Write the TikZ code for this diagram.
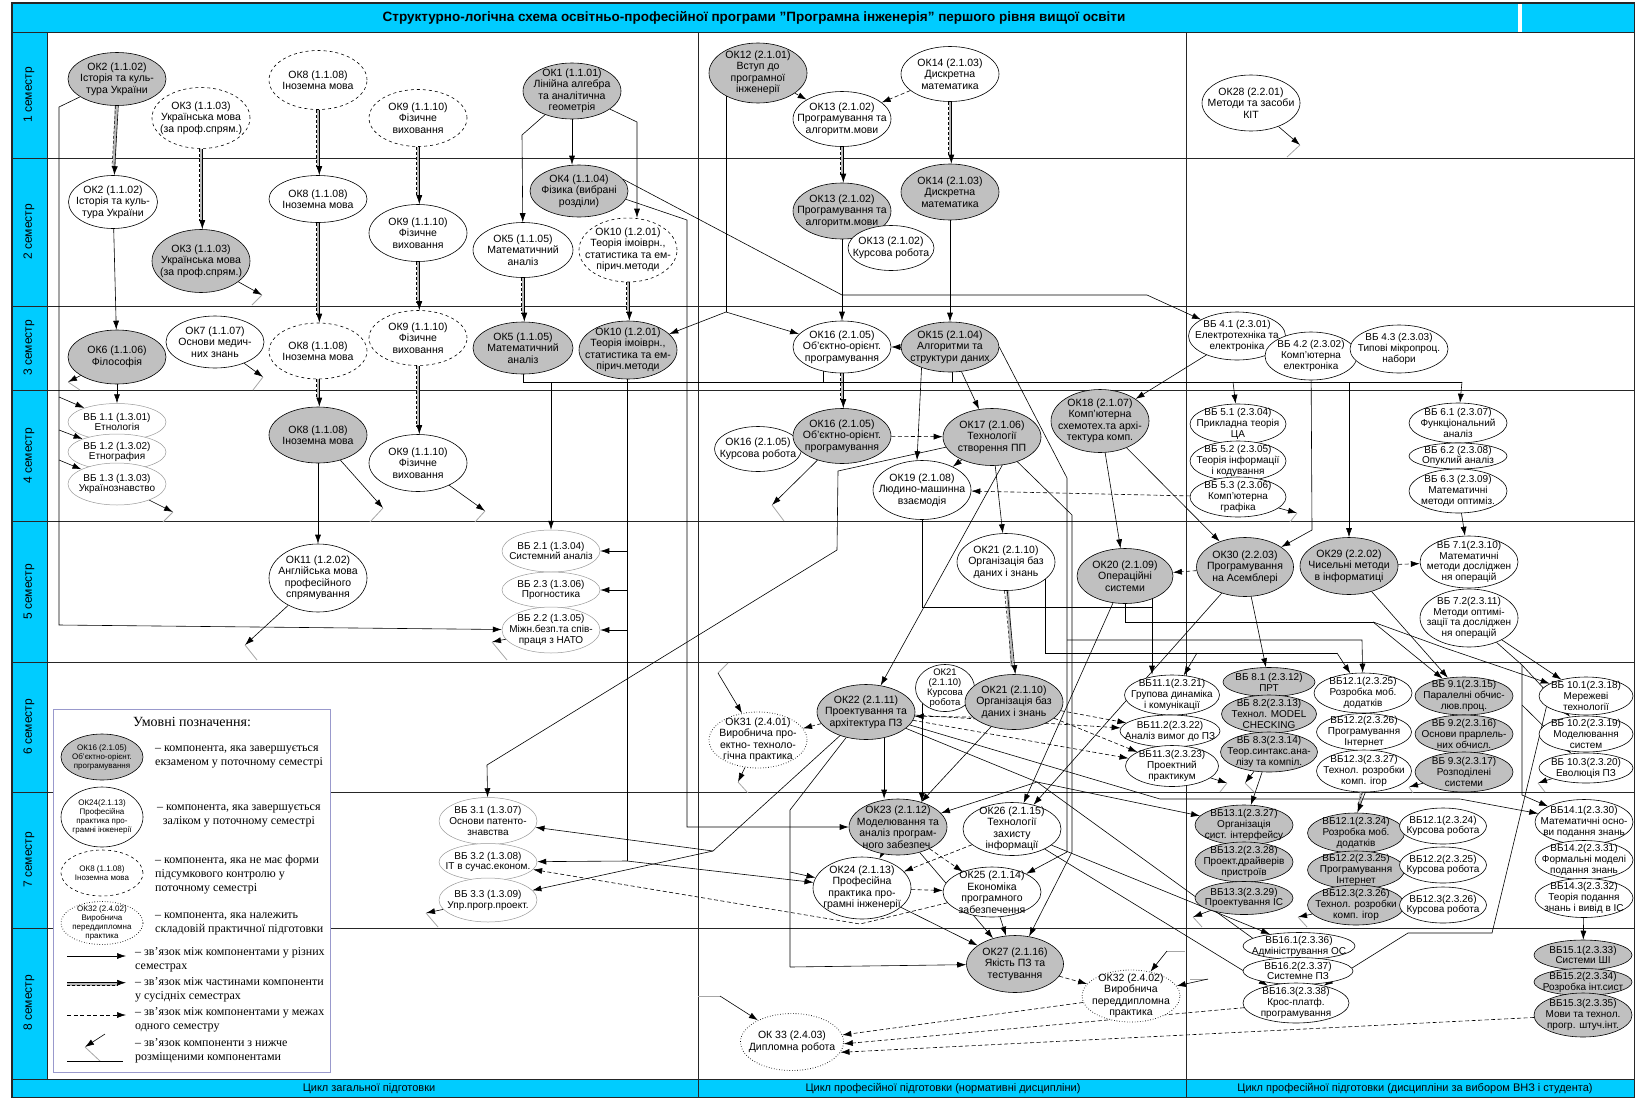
\documentclass[tikz,border=0pt]{standalone}
\usepackage{fontspec}
\setmainfont{Liberation Serif}
\setsansfont{Liberation Sans}
\usetikzlibrary{shapes.geometric,arrows.meta,positioning}
\definecolor{barCyan}{HTML}{00CCFF}
\definecolor{examGrey}{HTML}{C0C0C0}
\definecolor{legendFrame}{HTML}{9999CC}
\pgfdeclarelayer{frame}
\pgfdeclarelayer{wires}
\pgfsetlayers{frame,wires,main}

\tikzset{
  ok/.style={ellipse, draw, fill=white, line width=0.6pt, align=center,
    inner xsep=-14pt, inner ysep=-4pt, minimum width=98pt, minimum height=55pt,
    font=\sffamily\fontsize{10.5}{11.5}\selectfont},
  exam/.style={ok, fill=examGrey},
  nofc/.style={ok, dashed},
  prac/.style={ok, dotted, line width=0.8pt},
  vb/.style={ok, draw=gray!80, line width=0.5pt},
  sm/.style={font=\sffamily\fontsize{10}{10.8}\selectfont},
  hh/.style={minimum height=#1pt},
  ww/.style={minimum width=#1pt},
  link/.style={-{Latex[length=9pt,width=6pt]}, line width=0.6pt},
  dlink/.style={link, dash pattern=on 4pt off 2.5pt},
  plain/.style={line width=0.6pt},
  lowmark/.style={gray!70, line width=0.8pt},
  partband/.style={gray!55, line width=3pt, shorten >=8pt},
  row/.style={line width=1pt, black!85},
  lgtext/.style={align=left, anchor=west, inner sep=0pt, font=\fontsize{12}{14}\selectfont},
  lgell/.style={ok, minimum width=82pt, inner xsep=-10pt, font=\sffamily\fontsize{8}{9}\selectfont},
}

% link between parts of one component in neighbouring semesters
\newcommand{\partlink}[2]{%
  \draw[partband] (#1) -- (#2);
  \draw[line width=0.5pt, dash pattern=on 3pt off 2pt, shorten >=8pt] ([xshift=-1.5pt]#1.south) -- ([xshift=-1.5pt]#2.north);
  \draw[link] ([xshift=1.3pt]#1.south) -- ([xshift=1.3pt]#2.north);}
% link to components placed lower
\newcommand{\lowlink}[4]{%
  \coordinate (#1) at (#3);
  \draw[link] (#2) -- (#1);
  \draw[lowmark] (#1) -- ++(#4);}

\begin{document}
\begin{tikzpicture}[x=1pt,y=-1pt]
\useasboundingbox (0,0) rectangle (1635,1098);

% frame
\begin{pgfonlayer}{frame}
  \fill[barCyan] (12,3) rectangle (1635,32);
  \fill[white] (1518,3) rectangle (1522,32);
  \fill[barCyan] (12,32) rectangle (47,1079);
  \fill[barCyan] (12,1079) rectangle (1635,1098);
  \foreach \y in {32,158,306,390,521,662,792,928,1079}
    \draw[row] (12,\y) -- (1635,\y);
  \draw[row] (47,32) -- (47,1079);
  \draw[row] (698,32) -- (698,1098);
  \draw[row] (1186,32) -- (1186,1098);
  \draw[row, line width=1.3pt] (12,3) rectangle (1634.4,1097.4);
\end{pgfonlayer}

\node[font=\sffamily\bfseries\fontsize{13.5}{15}\selectfont] (title) at (754,18)
  {Структурно-логічна схема освітньо-професійної програми ”Програмна інженерія” першого рівня вищої освіти};
\foreach \n/\y in {1/95,2/232,3/348,4/456,5/592,6/727,7/860,8/1003}
  \node[rotate=90, font=\sffamily\fontsize{12}{14}\selectfont] (sem\n) at (29,\y) {\n\ семестр};
\node[font=\sffamily\fontsize{11}{13}\selectfont] (cycA) at (369,1089) {Цикл загальної підготовки};
\node[font=\sffamily\fontsize{11}{13}\selectfont] (cycB) at (943,1089) {Цикл професійної підготовки (нормативні дисципліни)};
\node[font=\sffamily\fontsize{11}{13}\selectfont] (cycC) at (1415,1089) {Цикл професійної підготовки (дисципліни за вибором ВНЗ і студента)};

% 1 семестр
\node[exam, hh=53] (ok2a) at (117,79) {ОК2 (1.1.02)\\Історія та куль-\\тура України};
\node[nofc, hh=61] (ok3a) at (201,118) {ОК3 (1.1.03)\\Українська мова\\(за проф.спрям.)};
\node[nofc, hh=59] (ok8a) at (318,80) {ОК8 (1.1.08)\\Іноземна мова};
\node[nofc, hh=57] (ok9a) at (418,118) {ОК9 (1.1.10)\\Фізичне\\виховання};
\node[exam, hh=56] (ok1) at (572,91) {ОК1 (1.1.01)\\Лінійна алгебра\\та аналітична\\геометрія};
\node[exam, hh=60] (ok12) at (758,73) {ОК12 (2.1.01)\\Вступ до\\програмної\\інженерії};
\node[ok] (ok13a) at (842,119) {ОК13 (2.1.02)\\Програмування та\\алгоритм.мови};
\node[ok] (ok14a) at (950,74) {ОК14 (2.1.03)\\Дискретна\\математика};
\node[ok, hh=56] (ok28) at (1251,103) {ОК28 (2.2.01)\\Методи та засоби\\КІТ};

% 2 семестр
\node[ok, ww=89, hh=53] (ok2b) at (113,202) {ОК2 (1.1.02)\\Історія та куль-\\тура України};
\node[exam, hh=63] (ok3b) at (201,261) {ОК3 (1.1.03)\\Українська мова\\(за проф.спрям.)};
\node[ok, hh=47] (ok8b) at (318,199) {ОК8 (1.1.08)\\Іноземна мова};
\node[ok, hh=57] (ok9b) at (418,233) {ОК9 (1.1.10)\\Фізичне\\виховання};
\node[exam, hh=52] (ok4) at (579,191) {ОК4 (1.1.04)\\Фізика (вибрані\\розділи)};
\node[ok, ww=100] (ok5a) at (523,250) {ОК5 (1.1.05)\\Математичний\\аналіз};
\node[nofc, hh=64] (ok10a) at (628,250) {ОК10 (1.2.01)\\Теорія імоіврн.,\\статистика та ем-\\пірич.методи};
\node[exam, hh=56] (ok13b) at (842,211) {ОК13 (2.1.02)\\Програмування та\\алгоритм.мови};
\node[ok, ww=86, hh=45] (ok13k) at (891,248) {ОК13 (2.1.02)\\Курсова робота};
\node[exam, hh=56] (ok14b) at (950,192) {ОК14 (2.1.03)\\Дискретна\\математика};

% 3 семестр
\node[exam, hh=54] (ok6) at (117,357) {ОК6 (1.1.06)\\Філософія};
\node[ok, hh=52] (ok7) at (215,342) {ОК7 (1.1.07)\\Основи медич-\\них знань};
\node[nofc, hh=56] (ok8c) at (318,351) {ОК8 (1.1.08)\\Іноземна мова};
\node[nofc] (ok9c) at (418,338) {ОК9 (1.1.10)\\Фізичне\\виховання};
\node[exam, ww=100, hh=52] (ok5b) at (523,348) {ОК5 (1.1.05)\\Математичний\\аналіз};
\node[exam, hh=58] (ok10b) at (628,350) {ОК10 (1.2.01)\\Теорія імоіврн.,\\статистика та ем-\\пірич.методи};
\node[ok, hh=52] (ok16a) at (842,347) {ОК16 (2.1.05)\\Об’єктно-орієнт.\\програмування};
\node[exam, hh=50] (ok15) at (950,347) {ОК15 (2.1.04)\\Алгоритми та\\структури даних};
\node[ok, sm, ww=97, hh=48] (vb41) at (1237,336) {ВБ 4.1 (2.3.01)\\Електротехніка та\\електроніка};
\node[ok, sm, ww=92, hh=48] (vb42) at (1311,356) {ВБ 4.2 (2.3.02)\\Комп’ютерна\\електроніка};
\node[ok, sm, hh=48] (vb43) at (1399,349) {ВБ 4.3 (2.3.03)\\Типові мікропроц.\\набори};

% 4 семестр
\node[vb, sm, hh=37] (vb11) at (117,422) {ВБ 1.1 (1.3.01)\\Етнологія};
\node[vb, sm, hh=36] (vb12) at (117,452) {ВБ 1.2 (1.3.02)\\Етнография};
\node[vb, sm, hh=42] (vb13) at (117,484) {ВБ 1.3 (1.3.03)\\Українознавство};
\node[exam, hh=56] (ok8d) at (318,435) {ОК8 (1.1.08)\\Іноземна мова};
\node[ok, hh=57] (ok9d) at (418,463) {ОК9 (1.1.10)\\Фізичне\\виховання};
\node[ok, ww=87, hh=45] (ok16k) at (758,449) {ОК16 (2.1.05)\\Курсова робота};
\node[exam] (ok16b) at (842,436) {ОК16 (2.1.05)\\Об’єктно-орієнт.\\програмування};
\node[exam, hh=57] (ok17) at (992,437) {ОК17 (2.1.06)\\Технології\\створення ПП};
\node[ok, hh=59] (ok19) at (922,490) {ОК19 (2.1.08)\\Людино-машинна\\взаємодія};
\node[exam, hh=63] (ok18) at (1100,421) {ОК18 (2.1.07)\\Комп’ютерна\\схемотех.та архі-\\тектура комп.};
\node[ok, sm, ww=96, hh=40] (vb51) at (1238,424) {ВБ 5.1 (2.3.04)\\Прикладна теорія\\ЦА};
\node[ok, sm, ww=96, hh=40] (vb52) at (1238,461) {ВБ 5.2 (2.3.05)\\Теорія інформації\\і кодування};
\node[ok, sm, ww=96, hh=40] (vb53) at (1238,497) {ВБ 5.3 (2.3.06)\\Комп’ютерна\\графіка};
\node[ok, sm, hh=40] (vb61) at (1458,423) {ВБ 6.1 (2.3.07)\\Функціональний\\аналіз};
\node[ok, sm, hh=26] (vb62) at (1458,456) {ВБ 6.2 (2.3.08)\\Опуклий аналіз};
\node[ok, sm, hh=44] (vb63) at (1458,491) {ВБ 6.3 (2.3.09)\\Математичні\\методи оптиміз.};

% 5 семестр
\node[ok, hh=68] (ok11) at (318,578) {ОК11 (1.2.02)\\Англійська мова\\професійного\\спрямування};
\node[vb, sm, hh=42] (vb21) at (551,551) {ВБ 2.1 (1.3.04)\\Системний аналіз};
\node[vb, sm, hh=36] (vb23) at (551,590) {ВБ 2.3 (1.3.06)\\Прогностика};
\node[vb, sm, hh=46] (vb22) at (551,630) {ВБ 2.2 (1.3.05)\\Міжн.безп.та спів-\\праця з НАТО};
\node[ok, hh=57] (ok21a) at (1006,562) {ОК21 (2.1.10)\\Організація баз\\даних і знань};
\node[exam, ww=96] (ok20) at (1125,576) {ОК20 (2.1.09)\\Операційні\\системи};
\node[exam, ww=97, hh=59] (ok30) at (1245,567) {ОК30 (2.2.03)\\Програмування\\на Асемблері};
\node[exam, hh=57] (ok29) at (1349,566) {ОК29 (2.2.02)\\Чисельні методи\\в інформатиці};
\node[ok, sm, hh=52] (vb71) at (1469,562) {ВБ 7.1(2.3.10)\\Математичні\\методи дослiджен\\ня операцій};
\node[ok, sm, hh=58] (vb72) at (1469,618) {ВБ 7.2(2.3.11)\\Методи оптимі-\\зації та досліджен\\ня операцій};

% 6 семестр
\node[prac, hh=56] (ok31) at (758,740) {ОК31 (2.4.01)\\Виробнича про-\\ектно- техноло-\\гічна практика};
\node[exam] (ok22) at (866,712) {ОК22 (2.1.11)\\Проектування та\\архітектура ПЗ};
\node[ok, ww=59, hh=47, font=\sffamily\fontsize{9.5}{10}\selectfont] (ok21k) at (945,688) {ОК21\\(2.1.10)\\Курсова\\робота};
\node[exam] (ok21b) at (1014,702) {ОК21 (2.1.10)\\Організація баз\\даних і знань};
\node[ok, sm, ww=95, hh=40] (vb111) at (1172,695) {ВБ11.1(2.3.21)\\Групова динаміка\\і комунікації};
\node[ok, sm, ww=100, hh=32] (vb112) at (1170,731) {ВБ11.2(2.3.22)\\Аналіз вимог до ПЗ};
\node[ok, sm, ww=93, hh=41] (vb113) at (1172,766) {ВБ11.3(2.3.23)\\Проектний\\практикум};
\node[exam, sm, ww=92, hh=29] (vb81) at (1269,682) {ВБ 8.1 (2.3.12)\\ПРТ};
\node[exam, sm, ww=95, hh=38] (vb82) at (1269,714) {ВБ 8.2(2.3.13)\\Технол. MODEL\\CHECKING};
\node[exam, sm, ww=97, hh=40] (vb83) at (1269,752) {ВБ 8.3(2.3.14)\\Теор.синтакс.ана-\\лізу та компіл.};
\node[ok, sm, hh=40] (vb121a) at (1363,693) {ВБ12.1(2.3.25)\\Розробка моб.\\додатків};
\node[ok, sm, ww=95, hh=37] (vb122a) at (1364,732) {ВБ12.2(2.3.26)\\Програмування\\Інтернет};
\node[ok, sm, ww=95, hh=42] (vb123a) at (1364,771) {ВБ12.3(2.3.27)\\Технол. розробки\\комп. ігор};
\node[exam, sm, hh=38] (vb91) at (1464,696) {ВБ 9.1(2.3.15)\\Паралелні обчис-\\люв.проц.};
\node[exam, sm, hh=38] (vb92) at (1464,734) {ВБ 9.2(2.3.16)\\Основи прарлель-\\них обчисл.};
\node[exam, sm, hh=40] (vb93) at (1464,772) {ВБ 9.3(2.3.17)\\Розподілені\\системи};
\node[ok, sm, ww=94, hh=38] (vb101) at (1586,696) {ВБ 10.1(2.3.18)\\Мережеві\\технології};
\node[ok, sm, ww=94, hh=36] (vb102) at (1586,734) {ВБ 10.2(2.3.19)\\Моделювання\\систем};
\node[ok, sm, ww=94, hh=30] (vb103) at (1586,768) {ВБ 10.3(2.3.20)\\Еволюція ПЗ};

% 7 семестр
\node[vb, sm, hh=47] (vb31) at (488,821) {ВБ 3.1 (1.3.07)\\Основи патенто-\\знавства};
\node[vb, sm, hh=37] (vb32) at (488,862) {ВБ 3.2 (1.3.08)\\ІТ в сучас.економ.};
\node[vb, sm, hh=44] (vb33) at (488,900) {ВБ 3.3 (1.3.09)\\Упр.прогр.проект.};
\node[exam, hh=56] (ok23) at (898,827) {ОК23 (2.1.12)\\Моделювання та\\аналіз програм-\\ного забезпеч.};
\node[ok, hh=53] (ok26) at (1012,829) {ОК26 (2.1.15)\\Технології\\захисту\\інформації};
\node[ok, hh=62] (ok24) at (862,888) {ОК24 (2.1.13)\\Професійна\\практика про-\\грамні інженерії};
\node[ok, hh=50] (ok25) at (992,892) {ОК25 (2.1.14)\\Економіка\\програмного\\забезпечення};
\node[exam, sm, hh=40] (vb131) at (1244,825) {ВБ13.1(2.3.27)\\Організація\\сист. інтерфейсу};
\node[exam, sm, hh=40] (vb132) at (1244,862) {ВБ13.2(2.3.28)\\Проект.драйверів\\пристроїв};
\node[exam, sm, hh=33] (vb133) at (1244,898) {ВБ13.3(2.3.29)\\Проектування ІС};
\node[exam, sm, ww=97, hh=40] (vb121b) at (1356,833) {ВБ12.1(2.3.24)\\Розробка моб.\\додатків};
\node[exam, sm, ww=97, hh=38] (vb122b) at (1356,870) {ВБ12.2(2.3.25)\\Програмування\\Інтернет};
\node[exam, sm, ww=97, hh=40] (vb123b) at (1356,905) {ВБ12.3(2.3.26)\\Технол. розробки\\комп. ігор};
\node[ok, sm, ww=87, hh=36] (vb121k) at (1443,826) {ВБ12.1(2.3.24)\\Курсова робота};
\node[ok, sm, ww=87, hh=36] (vb122k) at (1443,865) {ВБ12.2(2.3.25)\\Курсова робота};
\node[ok, sm, ww=87, hh=36] (vb123k) at (1443,905) {ВБ12.3(2.3.26)\\Курсова робота};
\node[ok, sm, hh=45] (vb141) at (1584,822) {ВБ14.1(2.3.30)\\Математичні осно-\\ви подання знань};
\node[ok, sm, hh=39] (vb142) at (1584,860) {ВБ14.2(2.3.31)\\Формальні моделі\\подання знань};
\node[ok, sm, hh=39] (vb143) at (1584,898) {ВБ14.3(2.3.32)\\Теорія подання\\знань і вивід в ІС};

% 8 семестр
\node[exam, ww=97, hh=57] (ok27) at (1015,964) {ОК27 (2.1.16)\\Якість ПЗ та\\тестування};
\node[prac, hh=52] (ok32) at (1131,996) {ОК32 (2.4.02)\\Виробнича\\переддипломна\\практика};
\node[prac, ww=103, hh=57] (ok33) at (792,1042) {ОК 33 (2.4.03)\\Дипломна робота};
\node[ok, sm, ww=112, hh=27] (vb161) at (1299,946) {ВБ16.1(2.3.36)\\Адміністрування ОС};
\node[ok, sm, ww=110, hh=27] (vb162) at (1298,971) {ВБ16.2(2.3.37)\\Системне ПЗ};
\node[ok, sm, ww=106, hh=40] (vb163) at (1296,1003) {ВБ16.3(2.3.38)\\Крос-платф.\\програмування};
\node[exam, sm, hh=30] (vb151) at (1583,955) {ВБ15.1(2.3.33)\\Системи ШІ};
\node[exam, sm, hh=27] (vb152) at (1583,982) {ВБ15.2(2.3.34)\\Розробка інт.сист};
\node[exam, sm, hh=44] (vb153) at (1583,1015) {ВБ15.3(2.3.35)\\Мови та технол.\\прогр. штуч.інт.};

% legend
\node[draw=legendFrame, fill=white, line width=0.8pt, minimum width=277pt, minimum height=363pt, inner sep=0pt] (legend) at (191.5,890.5) {};
\node[font=\fontsize{14}{16}\selectfont] (lgTitle) at (192,722) {Умовні позначення:};
\node[lgell, fill=examGrey, hh=46] (lgExam) at (102,757) {ОК16 (2.1.05)\\Об’єктно-орієнт.\\програмування};
\node[lgtext] (lgExamT) at (155,757) {– компонента, яка завершується\\екзаменом у поточному семестрі};
\node[lgell, hh=60] (lgCredit) at (102,817) {ОК24(2.1.13)\\Професійна\\практика про-\\грамні інженерії};
\node[lgtext, align=center] (lgCreditT) at (157,816) {– компонента, яка завершується\\заліком у поточному семестрі};
\node[lgell, dashed, hh=46] (lgNone) at (102,873) {ОК8 (1.1.08)\\Іноземна мова};
\node[lgtext] (lgNoneT) at (155,875) {– компонента, яка не має форми\\підсумкового контролю у\\поточному семестрі};
\node[lgell, dotted, line width=0.8pt, hh=43] (lgPrac) at (102,923) {ОК32 (2.4.02)\\Виробнича\\переддипломна\\практика};
\node[lgtext] (lgPracT) at (155,924) {– компонента, яка належить\\складовій практичної підготовки};
\coordinate (lgA1) at (67,956);
\coordinate (lgA2) at (126,956);
\draw[link] (lgA1) -- (lgA2);
\node[lgtext] (lgAT) at (135,960) {– зв'язок між компонентами у різних\\семестрах};
\coordinate (lgB1) at (67,984);
\coordinate (lgB2) at (126,984);
\draw[partband] (lgB1) -- (lgB2);
\draw[line width=0.5pt, dash pattern=on 3pt off 2pt, shorten >=8pt] ([yshift=-1.5pt]lgB1) -- ([yshift=-1.5pt]lgB2);
\draw[link] ([yshift=1.3pt]lgB1) -- ([yshift=1.3pt]lgB2);
\node[lgtext] (lgBT) at (135,990) {– зв'язок між частинами компоненти\\у сусідніх семестрах};
\coordinate (lgC1) at (67,1015);
\coordinate (lgC2) at (126,1015);
\draw[dlink] (lgC1) -- (lgC2);
\node[lgtext] (lgCT) at (135,1020) {– зв'язок між компонентами у межах\\одного семестру};
\coordinate (lgD1) at (105,1034);
\coordinate (lgD2) at (85,1047);
\coordinate (lgD3) at (67,1061);
\coordinate (lgD4) at (123,1061);
\draw[link] (lgD1) -- (lgD2);
\draw[lowmark] (lgD2) -- (100,1061);
\draw[plain] (lgD3) -- (lgD4);
\node[lgtext] (lgDT) at (135,1051) {– зв'язок компоненти з нижче\\розміщеними компонентами};

% connectors
\begin{pgfonlayer}{wires}
  % 1-2 семестр
  \partlink{ok2a}{ok2b}
  \partlink{ok3a}{ok3b}
  \partlink{ok8a}{ok8b}
  \partlink{ok9a}{ok9b}
  \partlink{ok13a}{ok13b}
  \partlink{ok14a}{ok14b}
  \draw[link] (ok1.south) -- (ok1.south |- ok4.north);
  \draw[link] (ok1) -- (522,135) -- (ok5a);
  \draw[link] (ok1) -- (637,122) -- ([xshift=9pt]ok10a.north);
  \draw[dlink] (ok12) -- (ok13a);
  \draw[dlink] (ok14a) -- (ok13a);
  \coordinate (j12) at (726,312);
  \draw[plain] (j12 |- ok12.center) -- (j12);
  \draw[link] (j12) -- (ok10b);
  \draw[link] (j12) -- (ok16a);
  \draw[link] (ok4.15) -- (842,295) -- (1147,295) -- (vb41);
  \draw[link] (ok4.-10) -- (687,220) -- (687,827) -- (ok23);
  \lowlink{ll28}{ok28}{1300,145}{-13,12}
  % ліва лінія від ОК2
  \coordinate (lft) at (59,107);
  \coordinate (lftEnd) at (59,625);
  \draw[link] (ok2a) -- (lft) -- (lftEnd) -- (vb22);
  \foreach \y/\t in {397/vb11,430/vb12,460/vb13}{
    \coordinate (lft-\t) at (59,\y);
    \draw[link] (lft-\t) -- (\t);}
  % 2-3 семестр
  \partlink{ok5a}{ok5b}
  \partlink{ok10a}{ok10b}
  \partlink{ok8b}{ok8c}
  \partlink{ok9b}{ok9c}
  \draw[link] (ok13b) -- (ok16a);
  \draw[link] (ok14b) -- (ok15);
  \draw[link] (ok2b) -- (ok6);
  \lowlink{ll3}{ok3b}{262,295}{-10,10}
  % 3 семестр
  \lowlink{ll6}{ok6}{68,382}{12,8}
  \draw[link] (ok6) -- (vb11);
  \lowlink{ll7}{ok7}{263,377}{-10,13}
  \partlink{ok8c}{ok8d}
  \partlink{ok9c}{ok9d}
  \partlink{ok16a}{ok16b}
  \coordinate (busA) at (522,382);
  \coordinate (busB) at (1462,382);
  \draw[plain] (ok5b) -- (ok5b |- busA) -- (busB);
  \draw[plain] ([xshift=-19pt]ok16a.center) -- ++(0,35);
  \draw[plain] ([xshift=2pt]ok15.center) -- ++(0,35);
  \foreach \x/\t in {551/vb21,1233/vb51,1349/ok29,1462/vb61}{
    \coordinate (drop-\t) at (\x,382);
    \draw[link] (drop-\t) -- (\t);}
  \draw[link] (vb42) -- (1312,530) -- (ok30);
  \draw[link] (vb41) -- (ok18);
  \draw[dlink] (ok15) -- (ok16a);
  \draw[link] (ok15) -- (ok17);
  \draw[link] (ok15.216) -- ([xshift=-5pt]ok19.north);
  \coordinate (v15) at (1067,478);
  \coordinate (j15b) at (1067,640);
  \coordinate (j15) at (1067,852);
  \draw[plain] (ok15.east) -- (v15) -- (j15);
  \draw[link] (j15) -- (ok25);
  \draw[link] (j15b) -- (1362,640) -- (vb121a);
  % ОК10
  \coordinate (v10) at (627,861);
  \draw[plain] (v10 |- ok10b.center) -- (v10);
  \foreach \t in {vb21,vb23,vb22}
    \draw[link] (v10 |- \t) -- (\t);
  \draw[link] (v10) -- (vb32);
  \draw[link] (v10) -- (ok24);
  % 4 семестр
  \draw[dlink] (ok16b) -- (ok17);
  \lowlink{ll16}{ok16b}{772,505}{12,16}
  \draw[link] (ok17) -- (838,471) -- (837,550) -- (487,765) -- (vb31);
  \draw[link] (ok17.-70) -- (ok22);
  \draw[link] (ok17) -- (ok21a);
  \draw[link] (ok17) -- (1072,515) -- (1072,852) -- (ok27);
  \draw[dlink] (ok17) -- (ok19);
  \draw[dlink] (vb53) -- (ok19);
  \draw[link] (ok18) -- (ok20);
  \draw[link] (ok18) -- (ok30);
  \lowlink{ll13}{vb13}{173,512}{-10,10}
  \draw[link] (ok8d) -- (ok11);
  \lowlink{ll8}{ok8d}{383,508}{-13,14}
  \lowlink{ll9}{ok9d}{485,511}{-10,11}
  \lowlink{ll53}{vb53}{1297,513}{-7,9}
  % 5 семестр
  \lowlink{ll11}{ok11}{245,645}{12,15}
  \lowlink{ll22}{vb22}{492,642}{15,18}
  \draw[dlink] (ok30) -- (ok20);
  \draw[dlink] (ok29) -- (vb71);
  \draw[link] (vb63) -- (vb71);
  \partlink{ok21a}{ok21b}
  \coordinate (j21) at (1045,653);
  \coordinate (j21b) at (1197,653);
  \coordinate (j21c) at (1337,653);
  \draw[plain] (j21 |- ok21a.center) -- (j21) -- (j21c);
  \draw[link] (j21b) -- (vb111);
  \draw[link] (j21c) -- (vb121a);
  \coordinate (j20) at (1152,607);
  \draw[plain] (ok19) |- (j20);
  \draw[plain] (j20 |- ok20.center) -- (j20);
  \draw[link] (j20) -- ([xshift=-20pt]vb111.north);
  \coordinate (j20b) at (1125,622);
  \coordinate (j20c) at (1373,622);
  \draw[plain] (ok20) -- (j20b) -- (j20c);
  \draw[link] (j20c) -- (vb91);
  \draw[link] (j20c) -- (1445,648) -- (vb101);
  \draw[link] (ok30) -- (vb81);
  \draw[link] (ok29) -- (vb91);
  \draw[link] (ok30) -- (ok26);
  \draw[link] (ok20) -- (ok26);
  \coordinate (v72) at (1522,665);
  \coordinate (v72b) at (1522,705);
  \coordinate (v72c) at (1522,795);
  \draw[plain] (vb72) -- (v72) -- (v72c);
  \draw[link] (v72c) -- (vb141);
  \draw[link] (v72) -- (vb102);
  \draw[link] (v72b) -- (vb103);
  \draw[link] (vb72) -- (vb101);
  \draw[link] (vb101.195) -- (1492,933) -- (1408,933) -- (vb163);
  % 6 семестр
  \coordinate (in31a) at (728,663);
  \coordinate (in31b) at (718,673);
  \draw[lowmark] (in31a) -- (in31b);
  \draw[link] (in31b) -- (ok31);
  \lowlink{ll31}{ok31}{738,782}{10,11}
  \draw[dlink] (ok22) -- (ok31);
  \draw[dlink] (ok21b.200) -- (ok22.-5);
  \draw[link] (ok22.-55) -- (ok22.-55 |- ok23.north);
  \draw[link] (ok21k.213) -- ([yshift=-3pt]ok21k.213 |- ok23.north);
  \draw[link] (ok21b) -- (ok23);
  \draw[dlink] (ok21b) -- (vb112);
  \draw[dlink] (ok21b) -- (vb113);
  \draw[dlink] (ok22) -- (vb112);
  \draw[dlink] (ok22) -- (vb113);
  \draw[link] (ok22) -- (1160,799) -- (1460,799) -- (vb141);
  \coordinate (jj) at (1037,782);
  \draw[plain] (ok22) -- (jj);
  \draw[link] (jj) -- (ok23);
  \draw[link] (jj) -- (vb131);
  \draw[link] (jj) -- (vb162);
  \coordinate (j22) at (713,851);
  \draw[plain] (ok22) -- (j22);
  \draw[link] (j22) -- (vb31);
  \draw[link] (j22) -- (vb33);
  \coordinate (j22b) at (790,810);
  \coordinate (j22d) at (790,872);
  \coordinate (j22c) at (790,967);
  \draw[plain] (ok22) -- (j22b) -- (j22c);
  \draw[link] (j22d) -- (ok24);
  \draw[link] (j22c) -- (ok27);
  \lowlink{ll113}{vb113}{1227,783}{-7,9}
  \lowlink{ll83}{vb83}{1245,783}{10,10}
  \lowlink{ll93}{vb93}{1409,787}{4,6}
  \lowlink{ll103}{vb103}{1538,783}{7,9}
  % 7 семестр
  \draw[dlink] (ok23) -- (ok24);
  \draw[dlink] (ok23) -- (ok25);
  \draw[dlink] (ok26) -- (ok24);
  \draw[dlink] (ok24) -- (ok25);
  \draw[link] (ok23) -- (ok27);
  \draw[link] (ok24) -- (ok27);
  \draw[link] (ok25) -- (ok27);
  \draw[dlink] (ok25) -- (860,924) -- (vb32);
  \draw[link] (ok26) -- (vb161);
  \draw[link] (ok26) -- (vb163);
  \draw[link] (vb83) -- (vb131);
  \partlink{vb123a}{vb121b}
  \lowlink{ll33}{vb33}{426,913}{12,14}
  \lowlink{ll123}{vb123b}{1298,917}{9,10}
  \lowlink{ll133}{vb133}{1193,917}{9,10}
  \draw[link] (vb143) -- (vb151);
  % 8 семестр
  \draw[dlink] (ok27) -- (ok32);
  \draw[dlink] (ok32) -- (ok33.8);
  \draw[dlink] (vb163) -- (ok33.-2);
  \draw[dlink] (vb153) -- (ok33.-12);
  \coordinate (in33a) at (698,996);
  \coordinate (in33b) at (720,996);
  \draw[lowmark] (in33a) -- (in33b);
  \draw[link] (in33b) -- (ok33);
  \coordinate (in32a) at (1185,951);
  \coordinate (in32b) at (1167,951);
  \draw[lowmark] (in32a) -- (in32b);
  \draw[link] (in32b) -- (ok32);
  \coordinate (in32c) at (1190,979);
  \coordinate (in32d) at (1208,979);
  \draw[lowmark] (in32c) -- (in32d);
  \draw[link] (in32d) -- (ok32);
\end{pgfonlayer}
\end{tikzpicture}
\end{document}
